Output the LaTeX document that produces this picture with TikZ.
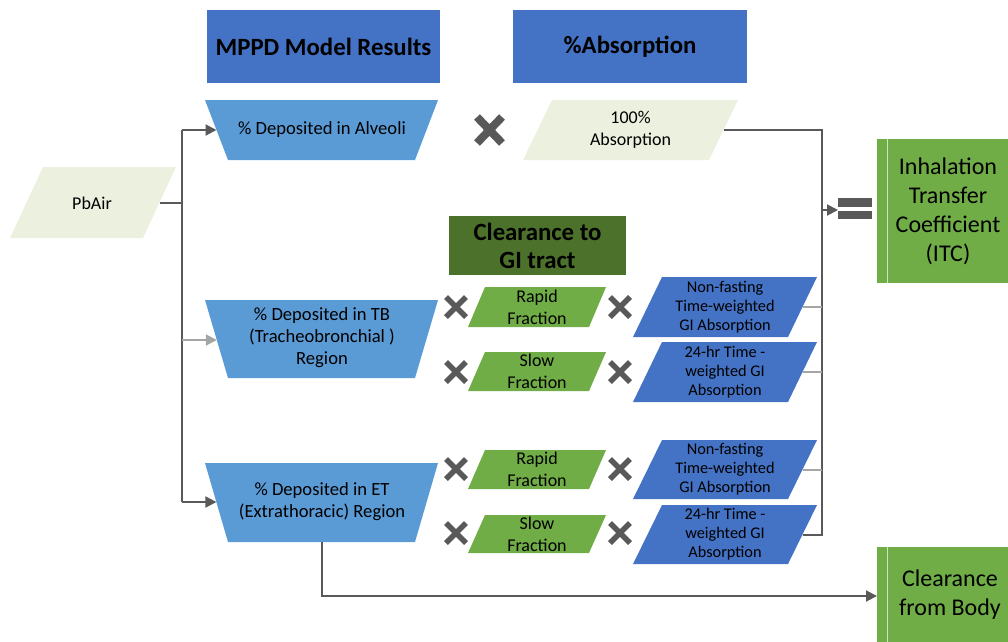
\documentclass[tikz,border=0pt]{standalone}
\usepackage{fontspec}
\setmainfont{Carlito}
\usetikzlibrary{arrows.meta}
\definecolor{hdrblue}{HTML}{4472C4}
\definecolor{trapblue}{HTML}{5B9BD5}
\definecolor{palegreen}{HTML}{EBF1DE}
\definecolor{midgreen}{HTML}{70AD47}
\definecolor{darkgreen}{HTML}{4B712A}
\definecolor{connc}{HTML}{595959}
\definecolor{lightconn}{HTML}{A5A5A5}
\newcommand\pgram[6]{\fill[#1] (#2,#3) -- ++(#4,0) -- ++(#6,-#5) -- ++(-#4,0) -- cycle;}
\newcommand\trap[2]{\fill[trapblue] (205,#1) -- (438,#1) -- (415,#2) -- (228,#2) -- cycle;}
\tikzset{
  txt/.style={align=center, inner sep=0pt, font=\fontsize{18}{22}\selectfont},
  traptxt/.style={align=center, inner sep=0pt, font=\fontsize{18.6}{22}\selectfont},
  smalltxt/.style={align=center, inner sep=0pt, font=\fontsize{16.3}{19}\selectfont},
  hdr/.style={align=center, inner sep=0pt, font=\bfseries\fontsize{24.8}{28}\selectfont},
  bigtxt/.style={align=center, inner sep=0pt, font=\fontsize{24}{29}\selectfont},
  conn/.style={draw=connc, line width=2pt},
  lconn/.style={draw=lightconn, line width=2pt},
  arr/.style={-{Triangle[length=11pt,width=11pt]}},
  xm/.style={draw=connc, line width=#1},
}
\begin{document}
\begin{tikzpicture}[x=1pt,y=-1pt]
\useasboundingbox (0,0) rectangle (1008,641);

% header boxes
\node[hdr, fill=hdrblue, minimum width=233pt, minimum height=73pt] (mppd) at (323.5,46.5) {MPPD Model Results};
\node[hdr, fill=hdrblue, minimum width=234pt, minimum height=73pt] (absh) at (630,46.5) {\%Absorption};
\node[hdr, fill=darkgreen, minimum width=177pt, minimum height=59pt] (cgi) at (537.5,245.5) {Clearance to\\GI tract};

% PbAir
\pgram{palegreen}{10}{238}{133}{71}{33}
\node[txt] (pbair) at (92,203) {PbAir};
\coordinate (pbairE) at (159.5,203);
\coordinate (trunkTop) at (182,130);
\coordinate (trunkMid) at (182,203);
\coordinate (trunkTB) at (182,340);
\coordinate (trunkBot) at (182,502);

% deposition trapezoids
\trap{100}{160}
\node[traptxt] (alv) at (322,130) {\% Deposited in Alveoli};
\coordinate (alvW) at (216.5,130);
\trap{300}{378}
\node[traptxt] (tb) at (322,338) {\% Deposited in TB\\(Tracheobronchial )\\Region};
\coordinate (tbW) at (216.8,340);
\trap{463}{542}
\node[traptxt] (et) at (322,502) {\% Deposited in ET\\(Extrathoracic) Region};
\coordinate (etW) at (216.4,502);
\coordinate (etS) at (322,542);
\coordinate (etBend) at (322,596);

% 100% absorption
\pgram{palegreen}{523}{160}{186}{60}{29}
\node[txt] (abs) at (630.5,130) {100\%\\Absorption};
\coordinate (absE) at (723.5,130);

% fractions
\pgram{midgreen}{468}{327}{121}{40}{17}
\node[txt] (tbrap) at (537,307) {Rapid\\Fraction};
\pgram{midgreen}{468}{391}{121}{39}{17}
\node[txt] (tbslow) at (537,371.5) {Slow\\Fraction};
\pgram{midgreen}{468}{489}{121}{39}{17}
\node[txt] (etrap) at (537,469.5) {Rapid\\Fraction};
\pgram{midgreen}{468}{553}{121}{38}{17}
\node[txt] (etslow) at (537,534) {Slow\\Fraction};

% GI absorption
\pgram{hdrblue}{633}{337}{155}{60}{29}
\node[smalltxt] (tbnf) at (725,307) {Non-fasting\\Time-weighted\\GI Absorption};
\coordinate (tbnfE) at (802.5,307);
\pgram{hdrblue}{633}{402}{155}{60}{29}
\node[smalltxt] (tb24) at (725,372) {24-hr Time -\\weighted GI\\Absorption};
\coordinate (tb24E) at (802.5,372);
\pgram{hdrblue}{633}{499}{155}{59}{29}
\node[smalltxt] (etnf) at (725,469.5) {Non-fasting\\Time-weighted\\GI Absorption};
\coordinate (etnfE) at (802.5,469.5);
\pgram{hdrblue}{633}{564}{155}{59}{29}
\node[smalltxt] (et24) at (725,534.5) {24-hr Time -\\weighted GI\\Absorption};
\coordinate (et24E) at (802.5,534.5);

% results
\fill[midgreen] (877,139) rectangle (1010,283);
\draw[white!65!midgreen, line width=0.8pt] (887,139) -- (887,283);
\node[bigtxt] (itc) at (948,211) {Inhalation\\Transfer\\Coefficient\\(ITC)};
\fill[midgreen] (877,547) rectangle (1010,645);
\draw[white!65!midgreen, line width=0.8pt] (887,547) -- (887,645);
\node[bigtxt] (cfb) at (950,595) {Clearance\\from Body};
\coordinate (cfbW) at (877,596);

% equals sign
\fill[connc] (838,198) rectangle (872,207);
\fill[connc] (838,211) rectangle (872,219);
\coordinate (eqW) at (838,210);
\coordinate (sumTop) at (822,130);
\coordinate (sumArr) at (822,210);
\coordinate (sumBot) at (822,534.5);

% X marks
\draw[xm=8pt] (477,117) -- (502,143) (477,143) -- (502,117);
\foreach \xx in {456,620}{
  \foreach \yy in {307,372,469,533}{
    \draw[xm=5.5pt] (\xx-10,\yy-10) -- (\xx+10,\yy+10) (\xx-10,\yy+10) -- (\xx+10,\yy-10);
  }
}

% connectors
\draw[conn] (pbairE) -- (trunkMid);
\draw[conn] (trunkTop) -- (trunkBot);
\draw[conn, arr] (trunkTop) -- (alvW);
\draw[lconn, arr] (trunkTB) -- (tbW);
\draw[conn, arr] (trunkBot) -- (etW);
\draw[conn] (absE) -- (sumTop) -- (sumBot) -- (et24E);
\draw[lconn] (tbnfE) -- (tbnfE -| sumTop);
\draw[lconn] (tb24E) -- (tb24E -| sumTop);
\draw[lconn] (etnfE) -- (etnfE -| sumTop);
\draw[conn, arr] (sumArr) -- (eqW);
\draw[conn, arr] (etS) -- (etBend) -- (cfbW);
\end{tikzpicture}
\end{document}
